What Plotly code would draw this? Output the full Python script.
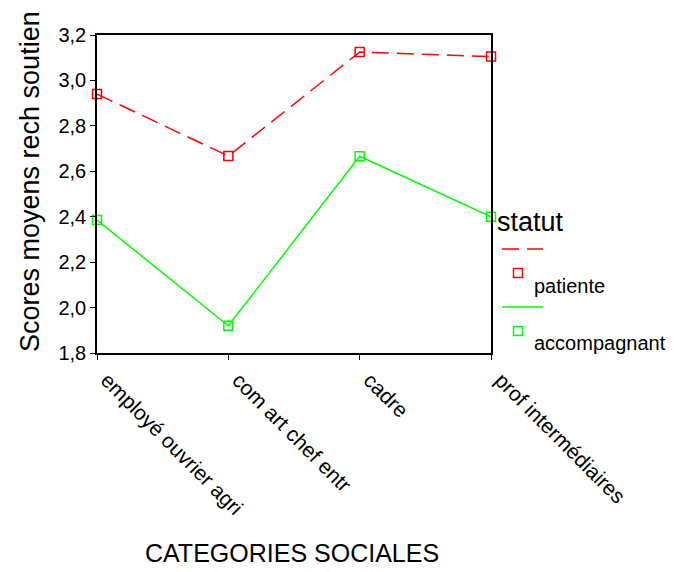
import plotly.graph_objects as go

categories = ["employé ouvrier agri", "com art chef entr", "cadre", "prof intermédiaires"]
patiente = [2.94, 2.667, 3.125, 3.105]
accompagnant = [2.385, 1.92, 2.666, 2.40]
ytick_vals = [1.8, 2.0, 2.2, 2.4, 2.6, 2.8, 3.0, 3.2]
ytick_text = ["1,8", "2,0", "2,2", "2,4", "2,6", "2,8", "3,0", "3,2"]

RED = "#ff0000"
GREEN = "#00ff00"
FONT = "Liberation Sans, Arial, sans-serif"

fig = go.Figure()
fig.add_trace(go.Scatter(
    x=categories, y=patiente, mode="lines+markers", name="patiente",
    line=dict(color=RED, width=1.5, dash="17px,8px"),
    marker=dict(symbol="square-open", size=9, color=RED, line=dict(width=1.5, color=RED)),
    cliponaxis=False, showlegend=False))
fig.add_trace(go.Scatter(
    x=categories, y=accompagnant, mode="lines+markers", name="accompagnant",
    line=dict(color=GREEN, width=1.5),
    marker=dict(symbol="square-open", size=9, color=GREEN, line=dict(width=1.5, color=GREEN)),
    cliponaxis=False, showlegend=False))

fig.update_layout(
    width=668, height=564,
    margin=dict(l=89, r=185, t=27, b=219),
    paper_bgcolor="white", plot_bgcolor="white",
    font=dict(family=FONT, size=20, color="black"),
    xaxis=dict(
        type="category", range=[0, 3], showgrid=False, zeroline=False,
        showline=True, linecolor="black", linewidth=1.5, mirror=True,
        ticks="outside", ticklen=5, tickcolor="black", tickwidth=1,
        tickangle=45, tickfont=dict(size=21, family=FONT),
        ticklabelshift=10,
    ),
    yaxis=dict(
        range=[1.8, 3.2], showgrid=False, zeroline=False,
        showline=True, linecolor="black", linewidth=1.5, mirror=True,
        ticks="outside", ticklen=5, tickcolor="black", tickwidth=1,
        tickvals=ytick_vals, ticktext=ytick_text, tickfont=dict(size=20, family=FONT),
    ),
)

# plot area in page pixels: left 97, top 35, right 491, bottom 353
def px(x):
    return (x - 97) / 394

def py(y):
    return (353 - y) / 318

# axis titles
fig.add_annotation(text="Scores moyens rech soutien", xref="paper", yref="paper",
                   x=px(30), y=py(182), textangle=-90,
                   showarrow=False, font=dict(size=27, family=FONT), xanchor="center", yanchor="middle")
fig.add_annotation(text="CATEGORIES SOCIALES", xref="paper", yref="paper",
                   x=px(292), y=py(553),
                   showarrow=False, font=dict(size=25, family=FONT), xanchor="center", yanchor="middle")

# custom legend
fig.add_annotation(text="statut", xref="paper", yref="paper", x=px(495), y=py(222),
                   showarrow=False, font=dict(size=27, family=FONT), xanchor="left", yanchor="middle")
legend_items = [("patiente", RED, "dash", 249, 273, 286), ("accompagnant", GREEN, "solid", 307, 331, 343)]
for name, col, dash, ly, my, ty in legend_items:
    fig.add_shape(type="line", xref="paper", yref="paper", x0=px(502), x1=px(543), y0=py(ly), y1=py(ly),
                  line=dict(color=col, width=1.5, dash="17px,8px" if dash == "dash" else "solid"))
    fig.add_shape(type="rect", xref="paper", yref="paper", x0=px(513.5), x1=px(522.5), y0=py(my - 4.5), y1=py(my + 4.5),
                  line=dict(color=col, width=1.5))
    fig.add_annotation(text=name, xref="paper", yref="paper", x=px(532), y=py(ty),
                       showarrow=False, font=dict(size=20, family=FONT), xanchor="left", yanchor="middle")

fig.write_html("out.html")
